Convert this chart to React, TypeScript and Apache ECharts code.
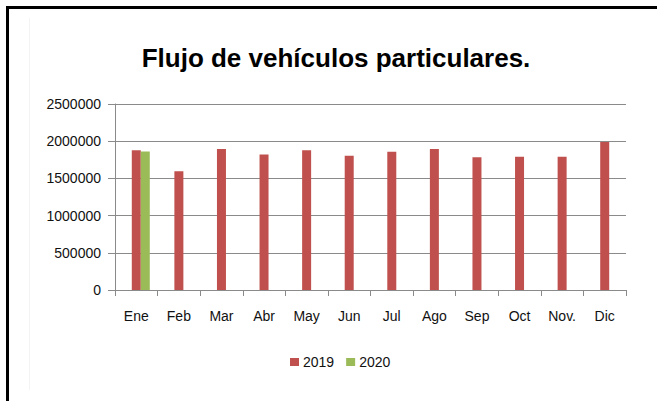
import React, { useEffect, useRef } from "react";
import * as echarts from "echarts";

const categories = ["Ene", "Feb", "Mar", "Abr", "May", "Jun", "Jul", "Ago", "Sep", "Oct", "Nov.", "Dic"];
const values2019 = [1880000, 1595000, 1895000, 1820000, 1880000, 1805000, 1858000, 1894000, 1783000, 1790000, 1790000, 1988000];
const values2020 = [1862000, null, null, null, null, null, null, null, null, null, null, null];
const yTicks = { min: 0, max: 2500000, interval: 500000 };
const titleText = "Flujo de vehículos particulares.";

const FONT = "'Liberation Sans', Arial, sans-serif";

export default function App() {
  const ref = useRef<HTMLDivElement>(null);
  useEffect(() => {
    document.body.style.margin = "0";
    const chart = echarts.init(ref.current!, null, { renderer: "svg" });
    const dummy = categories.map(() => null);
    chart.setOption({
      animation: false,
      backgroundColor: "#ffffff",
      textStyle: { fontFamily: FONT },
      graphic: [
        { type: "line", shape: { x1: 7.5, y1: 6, x2: 7.5, y2: 401 }, style: { stroke: "#000", lineWidth: 3 } },
        { type: "line", shape: { x1: 6, y1: 7.5, x2: 657, y2: 7.5 }, style: { stroke: "#000", lineWidth: 3 } },
        { type: "line", shape: { x1: 29.5, y1: 18, x2: 29.5, y2: 390 }, style: { stroke: "#f4f4f4", lineWidth: 1 } },
        {
          type: "text",
          x: 336,
          y: 58,
          style: {
            text: titleText,
            fontFamily: FONT,
            fontWeight: "bold",
            fontSize: 26,
            fill: "#000",
            textAlign: "center",
            textVerticalAlign: "middle",
          },
        },
      ],
      grid: { left: 115, right: 31, top: 104, bottom: 111, containLabel: false },
      legend: {
        data: ["2019", "2020"],
        top: 350,
        left: 285,
        itemWidth: 9,
        itemHeight: 8,
        itemGap: 12,
        icon: "rect",
        textStyle: { fontFamily: FONT, fontSize: 14, color: "#111", padding: [0, 0, 0, -1] },
      },
      xAxis: [
        {
          type: "category",
          data: categories,
          axisLine: { lineStyle: { color: "#8a8a8a" } },
          axisTick: { show: true, length: 6, lineStyle: { color: "#8a8a8a" } },
          axisLabel: { fontFamily: FONT, fontSize: 14, color: "#111", margin: 19 },
        },
        {
          type: "category",
          data: categories,
          show: false,
        },
      ],
      yAxis: {
        type: "value",
        min: yTicks.min,
        max: yTicks.max,
        interval: yTicks.interval,
        axisLine: { show: true, lineStyle: { color: "#8a8a8a" } },
        axisTick: { show: true, length: 7, lineStyle: { color: "#8a8a8a" } },
        axisLabel: { fontFamily: FONT, fontSize: 14, color: "#111", margin: 14, formatter: (v: number) => String(v) },
        splitLine: { lineStyle: { color: "#8a8a8a" } },
      },
      series: [
        { name: "2019", type: "bar", xAxisIndex: 0, data: values2019, barWidth: 9, itemStyle: { color: "#C0504D" } },
        { name: "_spacer", type: "bar", xAxisIndex: 1, data: dummy, barWidth: 9, barGap: "100%", itemStyle: { color: "transparent" } },
        { name: "2020", type: "bar", xAxisIndex: 1, data: values2020, barWidth: 9, barGap: "100%", itemStyle: { color: "#9BBB59" } },
      ],
    });
    return () => chart.dispose();
  }, []);
  return <div ref={ref} style={{ width: 657, height: 401 }} />;
}
